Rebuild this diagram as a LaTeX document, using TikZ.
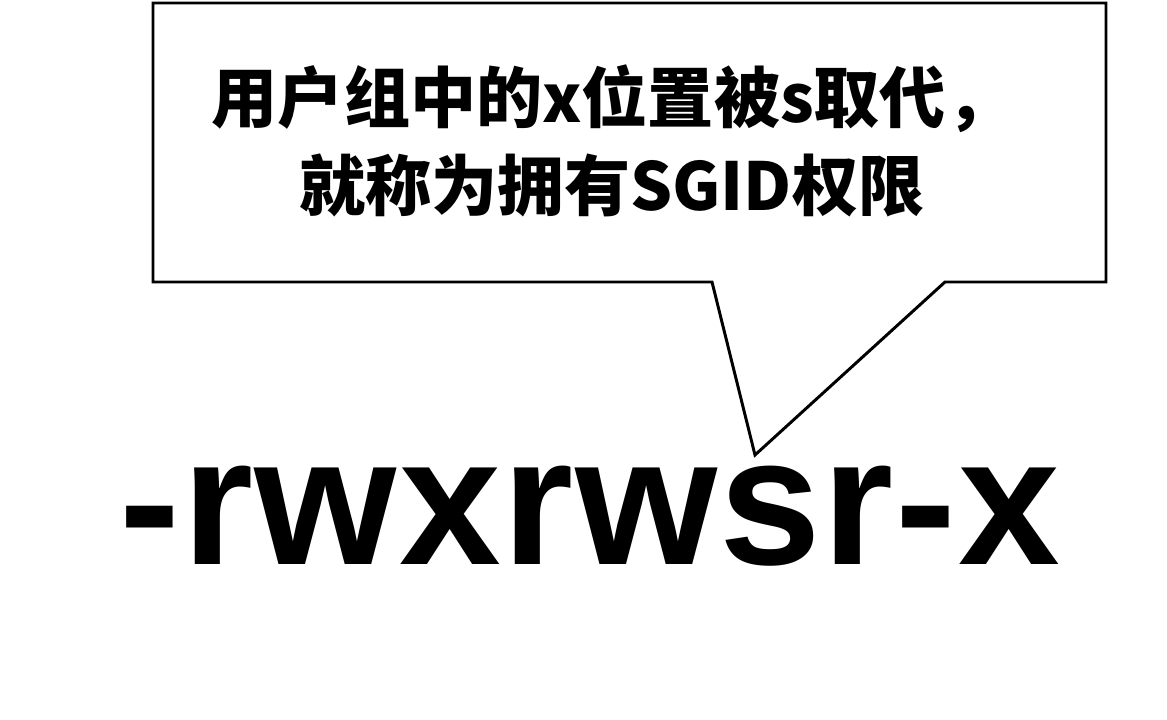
\documentclass[tikz,border=0pt]{standalone}
\usepackage{fontspec}
\setmainfont{Liberation Sans}
\newfontfamily\cjk{Noto Sans CJK SC}
\newfontfamily\permfont[LetterSpace=1]{Liberation Sans}
\usetikzlibrary{positioning}

\begin{document}
\begin{tikzpicture}[
        x=0.025cm, y=-0.025cm,
        note/.style={align=center, inner sep=0pt, font=\cjk\bfseries\fontsize{47}{63}\selectfont},
        perm/.style={inner sep=0pt, anchor=base, font=\permfont\bfseries\fontsize{130}{130}\selectfont},
        callout/.style={draw, line width=2.1pt, line join=miter}
    ]
    \useasboundingbox (0,0) rectangle (1167,720);

    % Permission string
    \node (mode) [perm] at (590,565) {-rwxrwsr-x};
    \coordinate (tip) at (755,455);

    % Callout box
    \coordinate (boxnw) at (153,3);
    \coordinate (boxse) at (1106,282);
    \coordinate (baseL) at (712,282);
    \coordinate (baseR) at (945,282);
    \draw [callout] (boxnw) -| (boxse) -- (baseR) -- (tip) -- (baseL) -- (boxnw |- boxse) -- cycle;

    % Text
    \node (note) [note] at (612,141) {用户组中的x位置被s取代，\\就称为拥有SGID权限};

\end{tikzpicture}
\end{document}
